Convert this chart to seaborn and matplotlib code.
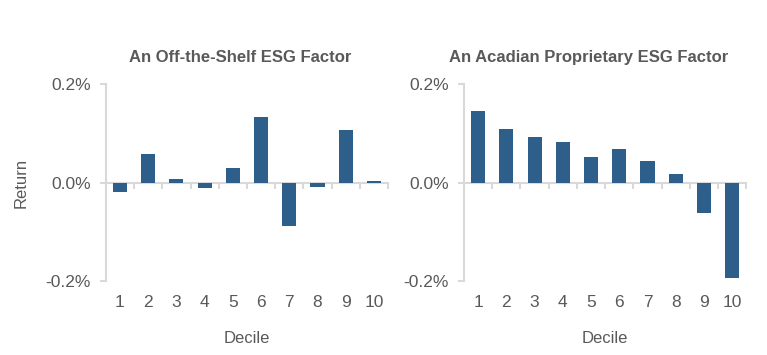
import numpy as np
import pandas as pd
import seaborn as sns
import matplotlib.pyplot as plt
from matplotlib.ticker import FuncFormatter

# decile returns, in percent
deciles = [str(i) for i in range(1, 11)]
off_shelf = [-0.018, 0.058, 0.008, -0.010, 0.030, 0.133, -0.087, -0.008, 0.107, 0.003]
acadian = [0.145, 0.109, 0.093, 0.083, 0.053, 0.068, 0.044, 0.018, -0.062, -0.194]
titles = ['An Off-the-Shelf ESG Factor', 'An Acadian Proprietary ESG Factor']

bar_color = '#2E5F8A'
axis_gray = '#D9D9D9'
text_gray = '#595959'

sns.set_style('white')
plt.rcParams['font.family'] = ['Liberation Sans', 'DejaVu Sans']

fig = plt.figure(figsize=(7.67, 3.55), dpi=100)
ax_l = fig.add_axes([0.138, 0.208, 0.368, 0.555])
ax_r = fig.add_axes([0.605, 0.208, 0.368, 0.555])


def draw_panel(ax, values, title, ylabel, title_x):
    df = pd.DataFrame({'Decile': deciles, 'Return': values})
    sns.barplot(data=df, x='Decile', y='Return', color=bar_color, width=0.5,
                saturation=1, linewidth=0, ax=ax)
    ax.set_xlim(-0.5, 9.5)
    ax.set_ylim(-0.2, 0.2)
    ax.set_yticks([-0.2, 0.0, 0.2])
    ax.yaxis.set_major_formatter(FuncFormatter(lambda v, p: f'{v:.1f}%'))
    for s in ['top', 'right', 'bottom']:
        ax.spines[s].set_visible(False)
    ax.spines['left'].set_color(axis_gray)
    ax.spines['left'].set_linewidth(1.5)
    ax.tick_params(axis='y', length=4, width=1.5, color=axis_gray,
                   labelsize=12.5, labelcolor=text_gray, pad=7, left=True)
    ax.tick_params(axis='x', length=0, labelsize=12.5, labelcolor=text_gray, pad=10)
    # zero line with category-boundary ticks (secondary axis uses its top spine)
    sec = ax.secondary_xaxis(0.5)
    sec.set_xticks(np.arange(0.5, 10, 1.0))
    sec.set_xticklabels([])
    for s in sec.spines.values():
        s.set_color(axis_gray)
        s.set_linewidth(1.5)
    sec.tick_params(length=4, width=1.5, color=axis_gray, direction='in')
    ax.set_title(title, fontsize=12, fontweight='bold', color=text_gray, pad=16, x=title_x)
    ax.set_xlabel('Decile', fontsize=12, color=text_gray, labelpad=15)
    ax.set_ylabel(ylabel, fontsize=12, color=text_gray, labelpad=12)


draw_panel(ax_l, off_shelf, titles[0], 'Return', 0.475)
draw_panel(ax_r, acadian, titles[1], '', 0.44)

fig.savefig('out.png', dpi=100)
